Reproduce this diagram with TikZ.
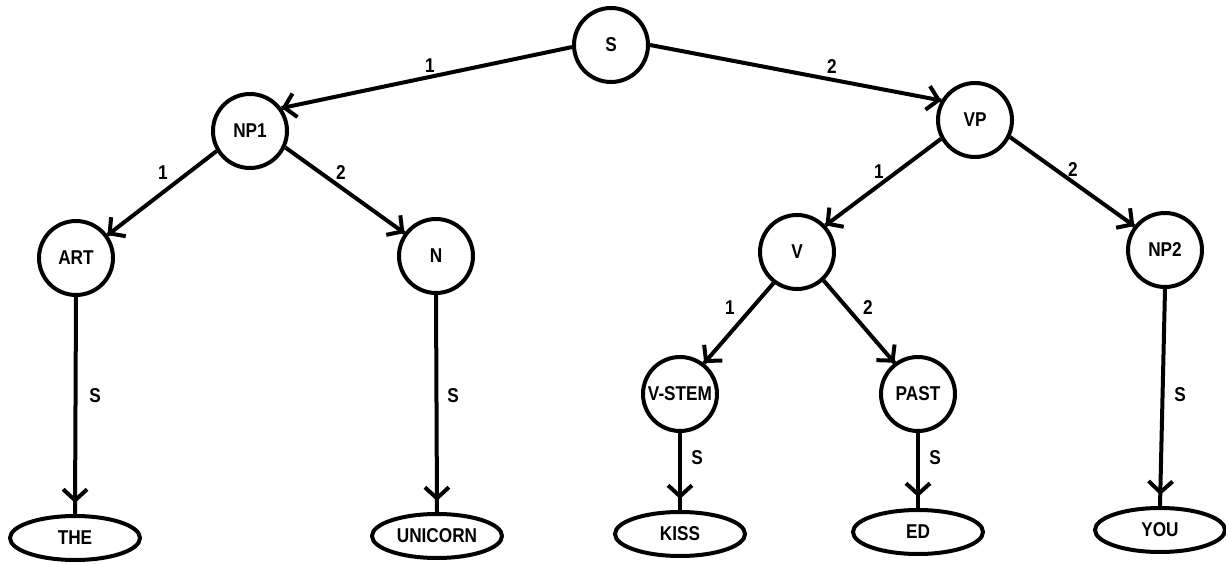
\documentclass[tikz,border=0pt]{standalone}
\usepackage{fontspec}
\setmainfont{Liberation Sans}[FakeStretch=0.86]
\usetikzlibrary{shapes.geometric,arrows.meta,decorations.markings}
\tikzset{
  txt/.style={font=\bfseries\fontsize{20}{20}\selectfont},
  tnode/.style={circle, draw, line width=4pt, minimum size=74pt, inner sep=0pt, txt},
  leaf/.style={ellipse, draw, line width=4pt, minimum width=130pt, minimum height=44pt, inner sep=0pt, txt},
  lbl/.style={inner sep=0pt, txt},
  conn/.style={line width=4pt, postaction={decorate},
    decoration={markings, mark=at position 1 with {\arrow[line width=4pt]{Straight Barb[length=11pt,width=24pt]}}}},
  vconn/.style={line width=4pt, postaction={decorate},
    decoration={markings, mark=at position -11pt with {\arrow[line width=4pt]{Straight Barb[length=11pt,width=24pt]}}}}
}
\begin{document}
\begin{tikzpicture}[x=1pt,y=-1pt]
\useasboundingbox (0,0) rectangle (1226,564);
% tree nodes
\node[tnode] (S) at (611,45) {S};
\node[tnode] (NP1) at (250,131) {NP1};
\node[tnode] (VP) at (975,120) {VP};
\node[tnode] (ART) at (76,258) {ART};
\node[tnode] (N) at (436,256) {N};
\node[tnode] (V) at (797,252) {V};
\node[tnode] (NP2) at (1165,250) {NP2};
\node[tnode] (VSTEM) at (680,394) {V-STEM};
\node[tnode] (PAST) at (918,394) {PAST};
% leaves
\node[leaf] (THE) at (75,538) {THE};
\node[leaf] (UNICORN) at (437,536) {UNICORN};
\node[leaf] (KISS) at (680,534) {KISS};
\node[leaf] (ED) at (918,532) {ED};
\node[leaf] (YOU) at (1160,530) {YOU};
% connectors
\draw[conn] (S.183) -- (NP1.36);
\draw[conn] (S.0) -- (VP.150);
\draw[conn] (NP1.211) -- (ART.36);
\draw[conn] (NP1.-25) -- (N.144);
\draw[conn] (VP.209) -- (V.43);
\draw[conn] (VP.-26) -- (NP2.142);
\draw[conn] (V.233) -- (VSTEM.52);
\draw[conn] (V.-47) -- (PAST.127);
\draw[vconn] (ART.south) -- (THE.north);
\draw[vconn] (N.south) -- (UNICORN.north);
\draw[vconn] (VSTEM.south) -- (KISS.north);
\draw[vconn] (PAST.south) -- (ED.north);
\draw[vconn] (NP2.south) -- (YOU.north);
% edge labels
\node[lbl] (l1) at (430,66) {1};
\node[lbl] (l2) at (832,67) {2};
\node[lbl] (l3) at (163,173) {1};
\node[lbl] (l4) at (341,173) {2};
\node[lbl] (l5) at (879,172) {1};
\node[lbl] (l6) at (1073,170) {2};
\node[lbl] (l7) at (730,308) {1};
\node[lbl] (l8) at (868,308) {2};
\node[lbl] (l9) at (95,396) {S};
\node[lbl] (l10) at (453,396) {S};
\node[lbl] (l11) at (697,458) {S};
\node[lbl] (l12) at (935,458) {S};
\node[lbl] (l13) at (1180,395) {S};
\end{tikzpicture}
\end{document}
